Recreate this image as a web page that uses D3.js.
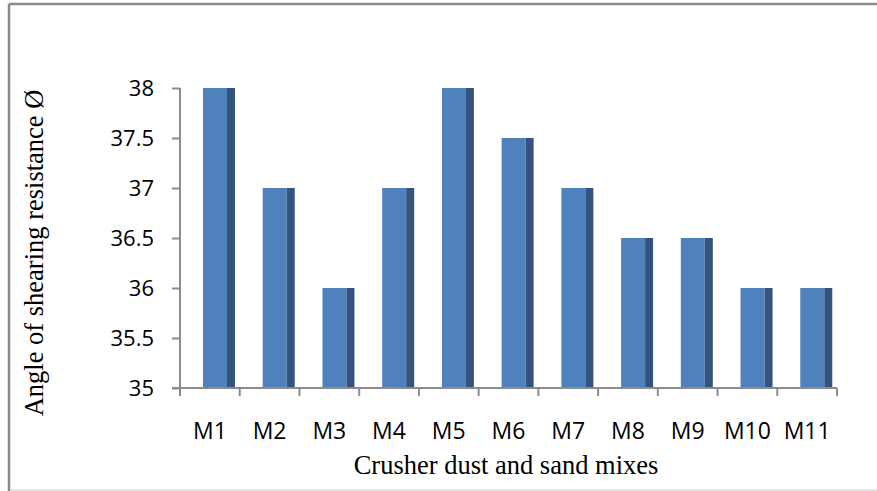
<!DOCTYPE html>
<html>
<head>
<meta charset="utf-8">
<script src="https://cdn.jsdelivr.net/npm/d3@7"></script>
<style>
  body { margin: 0; background: #fff; }
</style>
</head>
<body>
<div id="chart"></div>
<script>
// Data
const mixes = ["M1", "M2", "M3", "M4", "M5", "M6", "M7", "M8", "M9", "M10", "M11"];
const angles = [38, 37, 36, 37, 38, 37.5, 37, 36.5, 36.5, 36, 36];
const yTicks = [35, 35.5, 36, 36.5, 37, 37.5, 38];

const W = 877, H = 491;
const svg = d3.select("#chart").append("svg")
  .attr("width", W).attr("height", H);

// outer frame (cropped on the right)
svg.append("line").attr("x1", 9).attr("x2", W).attr("y1", 4).attr("y2", 4)
  .attr("stroke", "#8a8a8a").attr("stroke-width", 2.5);
svg.append("line").attr("x1", 9).attr("x2", 9).attr("y1", 4).attr("y2", H)
  .attr("stroke", "#8a8a8a").attr("stroke-width", 2.5);
svg.append("line").attr("x1", 10).attr("x2", W).attr("y1", 490).attr("y2", 490)
  .attr("stroke", "#dcdcdc").attr("stroke-width", 1.5);

const plot = {left: 180, right: 837, top: 88, bottom: 388};

const x = d3.scaleBand().domain(mixes).range([plot.left, plot.right]);
const y = d3.scaleLinear().domain([35, 38]).range([plot.bottom, plot.top]);

const axisColor = "#8c8c8c";

// y axis
const yAxis = svg.append("g")
  .attr("transform", "translate(" + plot.left + ",0)")
  .call(d3.axisLeft(y).tickValues(yTicks).tickSize(8).tickPadding(18)
    .tickFormat(d => String(d)));
yAxis.select(".domain").attr("stroke", axisColor).attr("stroke-width", 2)
  .attr("d", "M0," + plot.top + "V" + plot.bottom);
yAxis.selectAll(".tick line").attr("stroke", axisColor).attr("stroke-width", 2);
yAxis.selectAll("text")
  .attr("font-family", "'Open Sans', sans-serif").attr("font-size", 22)
  .attr("fill", "#000").attr("dy", "0.35em");

// bars: front face + darker side face
const front = 24, side = 8, offset = 23;
const bars = svg.append("g");
bars.selectAll("rect.front")
  .data(angles)
  .enter().append("rect")
  .attr("class", "front")
  .attr("x", (d, i) => x(mixes[i]) + offset)
  .attr("y", d => y(d))
  .attr("width", front)
  .attr("height", d => y(35) - y(d))
  .attr("fill", "#4f81bd");
bars.selectAll("rect.side")
  .data(angles)
  .enter().append("rect")
  .attr("class", "side")
  .attr("x", (d, i) => x(mixes[i]) + offset + front)
  .attr("y", d => y(d))
  .attr("width", side)
  .attr("height", d => y(35) - y(d))
  .attr("fill", "#34547f");

// x axis
const xAxis = svg.append("g")
  .attr("transform", "translate(0," + plot.bottom + ")")
  .call(d3.axisBottom(x).tickSize(0).tickPadding(35));
xAxis.select(".domain").attr("stroke", axisColor).attr("stroke-width", 2)
  .attr("d", "M" + (plot.left - 8) + ",0H" + plot.right);
xAxis.selectAll("text")
  .attr("font-family", "'Open Sans', sans-serif").attr("font-size", 23)
  .attr("fill", "#000");
// tick marks on band boundaries
xAxis.selectAll("line.bound")
  .data(mixes.map(m => x(m)).concat([plot.right]))
  .enter().append("line")
  .attr("class", "bound")
  .attr("x1", d => d).attr("x2", d => d)
  .attr("y1", 0).attr("y2", 8)
  .attr("stroke", axisColor).attr("stroke-width", 2);

// axis titles
svg.append("text")
  .attr("x", 506)
  .attr("y", 474)
  .attr("text-anchor", "middle")
  .attr("font-family", "'Liberation Serif', 'Times New Roman', serif")
  .attr("font-size", 26.5)
  .text("Crusher dust and sand mixes");

svg.append("text")
  .attr("transform", "translate(43,253) rotate(-90)")
  .attr("text-anchor", "middle")
  .attr("font-family", "'Liberation Serif', 'Times New Roman', serif")
  .attr("font-size", 26.5)
  .text("Angle of shearing resistance Ø");
</script>
</body>
</html>
